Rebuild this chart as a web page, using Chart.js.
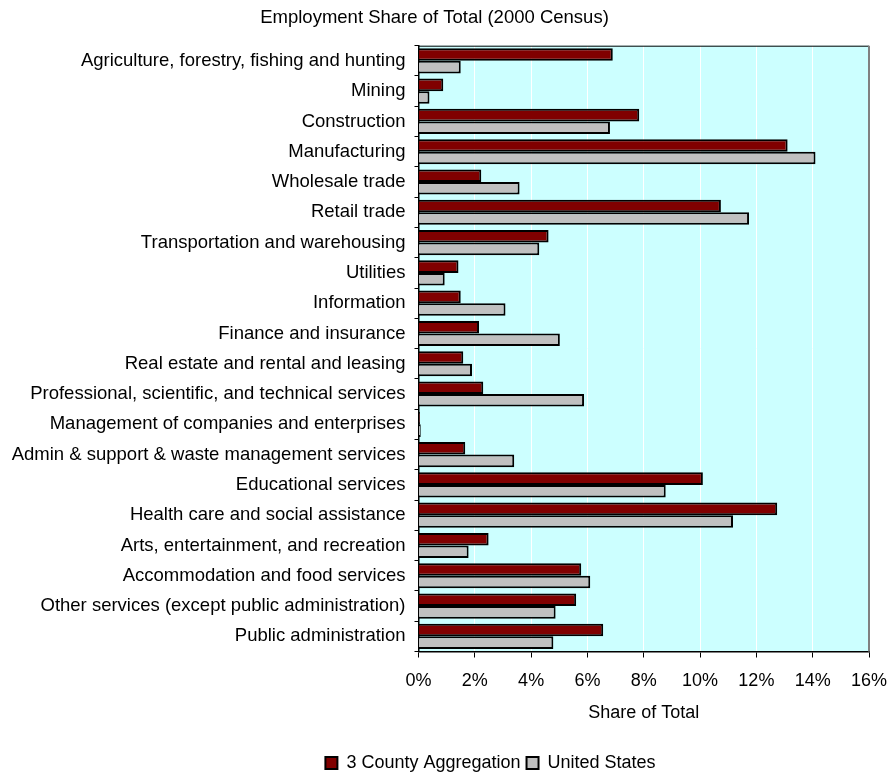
<!DOCTYPE html>
<html>
<head>
<meta charset="utf-8">
<script src="https://cdn.jsdelivr.net/npm/chart.js@4/dist/chart.umd.min.js"></script>
<style>
  html, body { margin: 0; padding: 0; background: #fff; overflow: hidden; }
  #wrap { width: 896px; height: 774px; position: relative; }
</style>
</head>
<body>
<div id="wrap"><canvas id="c" width="896" height="774"></canvas></div>
<script>
// Industry sectors (2000 Census)
const industries = [
  "Agriculture, forestry, fishing and hunting",
  "Mining",
  "Construction",
  "Manufacturing",
  "Wholesale trade",
  "Retail trade",
  "Transportation and warehousing",
  "Utilities",
  "Information",
  "Finance and insurance",
  "Real estate and rental and leasing",
  "Professional, scientific, and technical services",
  "Management of companies and enterprises",
  "Admin & support & waste management services",
  "Educational services",
  "Health care and social assistance",
  "Arts, entertainment, and recreation",
  "Accommodation and food services",
  "Other services (except public administration)",
  "Public administration"
];

// Employment share, percent of total
const countyShare = [6.90, 0.88, 7.84, 13.11, 2.23, 10.74, 4.62, 1.42, 1.50, 2.15,
                     1.59, 2.30, 0.05, 1.66, 10.10, 12.74, 2.49, 5.78, 5.60, 6.56];
const usShare     = [1.50, 0.39, 6.80, 14.10, 3.59, 11.74, 4.29, 0.93, 3.09, 5.02,
                     1.90, 5.88, 0.08, 3.40, 8.78, 11.17, 1.78, 6.10, 4.87, 4.79];

const seriesNames = ["3 County Aggregation", "United States"];
const xTicks = { min: 0, max: 16, step: 2 };

const FONT = "'Liberation Sans', Arial, Helvetica, sans-serif";
const FS = 18;

// Plot-area fill and frame, plus legend placement
const plotFrame = {
  id: 'plotFrame',
  afterLayout(chart) {
    const lg = chart.legend;
    if (lg) {
      lg.left += 56; lg.right += 56;
      lg.top += 8; lg.bottom += 8;
    }
  },
  beforeDraw(chart) {
    const { ctx, chartArea: a } = chart;
    ctx.save();
    ctx.fillStyle = '#CCFFFF';
    ctx.fillRect(a.left, a.top, a.right - a.left, a.bottom - a.top);
    ctx.restore();
  },
  afterDraw(chart) {
    const { ctx, chartArea: a } = chart;
    ctx.save();
    ctx.strokeStyle = '#000';
    ctx.lineWidth = 1;
    ctx.beginPath();
    ctx.moveTo(a.left, a.top + 0.5);
    ctx.lineTo(a.right, a.top + 0.5);
    ctx.stroke();
    ctx.strokeStyle = '#808080';
    ctx.lineWidth = 2;
    ctx.beginPath();
    ctx.moveTo(a.right, a.top);
    ctx.lineTo(a.right, a.bottom);
    ctx.stroke();
    ctx.restore();
  }
};

new Chart(document.getElementById('c'), {
  type: 'bar',
  data: {
    labels: industries,
    datasets: [
      {
        label: seriesNames[0],
        data: countyShare,
        backgroundColor: '#800000',
        borderColor: '#000',
        borderWidth: 2,
        borderSkipped: 'left',
        barPercentage: 1.0,
        categoryPercentage: 0.83
      },
      {
        label: seriesNames[1],
        data: usShare,
        backgroundColor: '#C0C0C0',
        borderColor: '#000',
        borderWidth: 2,
        borderSkipped: 'left',
        barPercentage: 1.0,
        categoryPercentage: 0.83
      }
    ]
  },
  options: {
    indexAxis: 'y',
    responsive: false,
    animation: false,
    devicePixelRatio: 1,
    layout: { padding: { left: 0, right: 27, top: 0, bottom: 0 } },
    plugins: {
      title: {
        display: true,
        text: 'Employment Share of Total (2000 Census)',
        color: '#000',
        font: { family: FONT, size: 18.5, weight: 'normal' },
        padding: { top: 7, bottom: 16.5 }
      },
      legend: {
        position: 'bottom',
        labels: {
          color: '#000',
          font: { family: FONT, size: FS },
          boxWidth: 12,
          boxHeight: 12,
          padding: 6,
          generateLabels(chart) {
            return chart.data.datasets.map((ds, i) => ({
              text: ds.label,
              fillStyle: ds.backgroundColor,
              strokeStyle: '#000',
              lineWidth: 2,
              hidden: false,
              datasetIndex: i,
              fontColor: '#000'
            }));
          }
        }
      },
      tooltip: { enabled: false }
    },
    scales: {
      x: {
        type: 'linear',
        min: xTicks.min,
        max: xTicks.max,
        ticks: {
          stepSize: xTicks.step,
          color: '#000',
          font: { family: FONT, size: FS },
          padding: 12.5,
          callback: v => v + '%'
        },
        grid: {
          color: '#FFFFFF',
          lineWidth: 1,
          tickColor: '#000',
          tickLength: 6
        },
        border: { display: true, color: '#000', width: 1.5 },
        title: {
          display: true,
          text: 'Share of Total',
          color: '#000',
          font: { family: FONT, size: FS },
          padding: { top: 6, bottom: 16.2 }
        },
        afterFit(scale) {
          scale.height = 88.5;
          scale.paddingLeft = 0;
          scale.paddingRight = 0;
        }
      },
      y: {
        ticks: {
          color: '#000',
          font: { family: FONT, size: 18.5 },
          padding: 9,
          autoSkip: false
        },
        grid: {
          display: true,
          drawOnChartArea: false,
          offset: true,
          tickColor: '#000',
          tickLength: 4
        },
        border: { display: true, color: '#000', width: 1.5 },
        afterFit(scale) { scale.width = 418.5; }
      }
    }
  },
  plugins: [plotFrame]
});
</script>
</body>
</html>
